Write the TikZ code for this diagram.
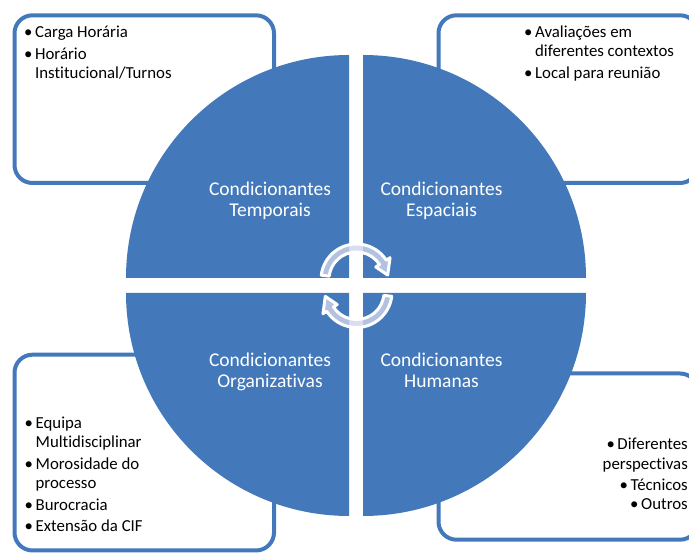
\documentclass[tikz,border=0pt]{standalone}
\usepackage{fontspec}
\setmainfont{Carlito}[Ligatures={NoCommon,NoContextual}]
\definecolor{qblue}{RGB}{67,121,186}
\definecolor{afill}{RGB}{208,213,235}
\begin{document}
\begin{tikzpicture}[x=1pt,y=1pt,
  quad/.style={fill=qblue},
  infobox/.style={draw=qblue, line width=4pt, rounded corners=18pt, fill=white},
  cyc/.style={draw=white, line width=3pt, fill=afill, fill opacity=0.8, line join=round},
  qlabel/.style={text=white, font=\fontsize{19.5}{21}\selectfont, inner sep=0pt},
  items/.style={font=\fontsize{16.8}{19.3}\selectfont, inner sep=0pt}
]
\useasboundingbox (0,0) rectangle (689,554);

% outer boxes
\draw[infobox] (14.5,538.7) rectangle (274,371);
\draw[infobox] (438.5,538.7) rectangle (698,371);
\draw[infobox] (14.5,199.3) rectangle (274,3.5);
\draw[infobox] (438.5,180.5) rectangle (698,14.3);

% quadrants
\fill[quad] (349,276) -- (126,276) arc[start angle=180,end angle=90,radius=223] -- cycle;
\fill[quad] (363,276) -- (363,499) arc[start angle=90,end angle=0,radius=223] -- cycle;
\fill[quad] (349,261) -- (126,261) arc[start angle=180,end angle=270,radius=223] -- cycle;
\fill[quad] (363,261) -- (363,38) arc[start angle=270,end angle=360,radius=223] -- cycle;

% cycle arrows
\filldraw[cyc, shift={(356.5,274.5)}] (173:35.5) arc[start angle=173, end angle=33, radius=35.5]
  -- (33:40) -- (8:31.5) -- (33:23) -- (33:27.5) arc[start angle=33, end angle=173, radius=27.5] -- cycle;
\filldraw[cyc, shift={(356.5,262)}] (-7:35.5) arc[start angle=-7, end angle=-147, radius=35.5]
  -- (-147:40) -- (-172:31.5) -- (-147:23) -- (-147:27.5) arc[start angle=-147, end angle=-7, radius=27.5] -- cycle;

% quadrant labels
\node[qlabel, anchor=base] (tlab) at (270,358.3) {\begin{tabular}[t]{@{}c@{}}Condicionantes\\Temporais\end{tabular}};
\node[qlabel, anchor=base] (elab) at (441.5,358.3) {\begin{tabular}[t]{@{}c@{}}Condicionantes\\Espaciais\end{tabular}};
\node[qlabel, anchor=base] (olab) at (270,187.3) {\begin{tabular}[t]{@{}c@{}}Condicionantes\\Organizativas\end{tabular}};
\node[qlabel, anchor=base] (hlab) at (441.5,187.3) {\begin{tabular}[t]{@{}c@{}}Condicionantes\\Humanas\end{tabular}};

% box texts
\node[items, anchor=base west] (ttext) at (24,516.3) {\begin{tabular}[t]{@{}l@{\hspace{2.6pt}}l@{}}
\textbullet & Carga Horária\\[2.5pt]
\textbullet & Horário\\
 & Institucional/Turnos
\end{tabular}};
\node[items, anchor=base west] (etext) at (524,516.3) {\begin{tabular}[t]{@{}l@{\hspace{2.6pt}}l@{}}
\textbullet & Avaliações em\\
 & diferentes contextos\\[2.2pt]
\textbullet & Local para reunião
\end{tabular}};
\node[items, anchor=base west] (otext) at (24.5,125.7) {\begin{tabular}[t]{@{}l@{\hspace{2.6pt}}l@{}}
\textbullet & Equipa\\
 & Multidisciplinar\\[2.5pt]
\textbullet & Morosidade do\\
 & processo\\[2.5pt]
\textbullet & Burocracia\\[2.2pt]
\textbullet & Extensão da CIF
\end{tabular}};
\node[items, anchor=base east] (htext) at (688,104) {\begin{tabular}[t]{@{}r@{}}
\textbullet\hspace{2.6pt}Diferentes\\
perspectivas\\[1.5pt]
\textbullet\hspace{2.6pt}Técnicos\\[0.5pt]
\textbullet\hspace{2.6pt}Outros
\end{tabular}};
\end{tikzpicture}
\end{document}
